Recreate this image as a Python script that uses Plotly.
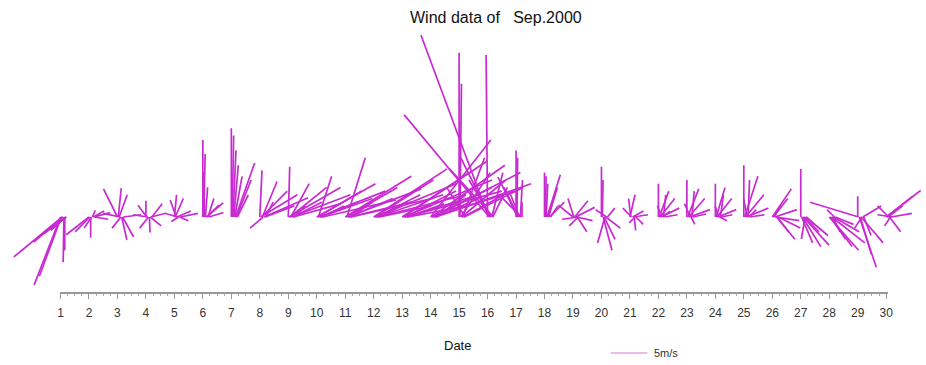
import plotly.graph_objects as go

# 30 days of Sep 2000, 8 observations a day (u, v in m/s)
DAYS = list(range(1, 31))
OBS_HOURS = [0, 3, 6, 9, 12, 15, 18, 21]
TICK_LABELS = [str(d) for d in DAYS]

U = [
    [-3.6, -3.0, -6.6, -4.0, -0.1, 0.0, -2.0, -3.0],
    [-3.1, -2.0, 0.0, -1.0, 0.4, 1.5, 2.2, 1.8],
    [-1.9, 0.4, 1.1, -2.3, -1.2, 0.7, 1.5, 2.4],
    [0.0, -1.2, -2.0, -1.2, 0.1, 1.5, 2.0, 1.4],
    [0.3, 1.1, -0.8, 1.9, -1.8, -1.0, 1.2, 2.4],
    [0.0, 0.2, -0.1, 0.3, 2.3, 1.6, 0.8, 2.0],
    [0.0, 0.2, 0.4, 0.6, 1.0, 2.6, 2.0, 1.5],
    [0.3, 5.0, 3.5, 2.0, -1.8, 6.0, 4.0, 1.0],
    [0.2, 7.0, 5.0, 2.5, 8.0, 4.0, 6.5, 1.5],
    [8.0, 6.0, 1.8, 9.0, 5.0, 7.0, 3.0, 10.0],
    [9.0, 7.0, 2.5, 10.0, 6.0, 8.5, 3.0, 11.0],
    [10.0, 8.0, 11.0, 6.0, 9.0, 12.0, 4.0, 7.0],
    [11.5, 9.0, 12.0, 7.0, 10.0, 13.0, 5.0, 8.0],
    [8.2, 10.0, 12.0, 8.0, 11.0, 6.0, 13.0, 4.0],
    [0.0, 0.2, 4.0, 6.0, 3.0, 5.5, 8.0, -2.5],
    [-0.2, -9.2, -11.6, -4.0, -3.0, 1.5, 2.0, -6.0],
    [0.0, 0.1, -2.7, -2.0, -1.2, 0.3, -3.0, 0.0],
    [0.0, 0.1, 0.2, 1.8, 1.3, 0.8, 2.0, 1.0],
    [-2.0, -0.8, 1.8, 2.6, 2.2, 1.3, -1.2, -2.3],
    [0.0, 0.1, 1.2, 1.5, -1.0, 2.0, -1.5, 1.0],
    [0.7, -0.3, -1.2, 1.5, 2.0, 0.2, -0.8, 1.0],
    [0.0, 1.3, 2.0, 2.5, -0.6, 1.0, 0.3, 1.8],
    [0.0, 1.5, 2.2, 2.8, -0.8, 0.5, 0.3, 1.8],
    [0.0, 1.2, 2.0, 2.5, -0.5, 1.0, 0.4, 1.5],
    [0.0, 1.8, 2.5, 3.0, -0.5, 0.2, 1.0, 2.0],
    [2.6, 2.0, 1.0, 3.0, 3.2, 2.5, 1.5, 3.0],
    [0.0, 1.5, 2.5, 3.5, 2.0, -0.5, 3.0, 1.0],
    [4.0, 3.0, 2.0, 4.5, 1.0, 3.5, -1.0, 2.5],
    [0.0, -6.6, 2.3, 1.5, 3.0, -1.0, 2.5, 1.0],
    [4.7, 3.5, 2.0, -1.5, 1.5, -0.8, 2.8, -2.0],
]
V = [
    [-9.2, -8.0, -5.4, -3.4, -6.1, -4.5, -1.8, -2.2],
    [-2.4, -2.0, -2.8, -1.5, 0.9, 0.8, 0.6, -0.3],
    [3.8, 3.9, 3.0, 0.5, -1.5, -3.1, -2.7, 0.3],
    [2.2, 1.6, 0.3, -1.5, -2.1, -1.2, 0.5, 1.8],
    [3.0, 2.5, 2.3, 0.8, 0.5, -0.6, -0.5, 0.5],
    [10.4, 8.5, 6.0, 4.0, 1.9, 1.6, 2.5, 0.6],
    [12.0, 11.0, 9.0, 7.0, 5.5, 7.3, 5.0, 3.0],
    [6.3, 3.0, 3.5, 4.8, -1.5, 2.6, 1.5, 2.0],
    [6.8, 4.0, 4.0, 4.5, 3.0, 2.0, 1.8, 1.5],
    [4.5, 3.5, 5.5, 3.5, 2.0, 2.5, 1.5, 2.3],
    [5.5, 4.0, 8.0, 3.8, 2.5, 2.0, 2.0, 2.5],
    [6.5, 5.0, 4.5, 3.0, 3.0, 3.0, 2.0, 1.5],
    [7.5, 6.0, 5.0, 3.5, 3.0, 3.5, 1.8, 1.5],
    [10.4, 7.0, 6.0, 4.0, 3.5, 2.5, 4.5, 3.0],
    [22.2, 18.0, 6.0, 5.0, 8.0, 3.0, 4.0, 4.0],
    [21.9, 24.6, 13.8, 8.0, 5.0, 6.0, 4.0, 6.5],
    [9.0, 8.0, 5.4, 4.0, 3.0, 5.0, 3.0, 2.0],
    [6.0, 5.5, 4.5, 5.7, 4.0, 3.0, 2.0, 1.5],
    [1.6, 2.5, 2.2, 1.3, -0.5, -2.0, -1.2, -0.3],
    [6.8, 5.0, -4.5, -3.0, -3.5, -1.5, 1.0, 1.2],
    [3.0, 2.5, 1.2, 0.8, 0.3, -1.8, -0.8, -1.0],
    [4.5, 3.5, 2.5, 1.2, 1.5, 0.8, 3.0, 0.3],
    [5.0, 3.8, 2.5, 1.0, 1.8, -1.0, 3.5, 0.4],
    [4.5, 4.0, 2.5, 1.0, 1.5, -0.5, 3.0, 0.3],
    [7.0, 5.5, 3.0, 1.2, 2.5, 5.0, 1.0, 0.3],
    [3.8, 2.5, 1.5, 1.0, -0.5, -3.0, -2.0, -1.5],
    [6.5, -3.5, -4.0, -3.8, -2.0, -3.0, -2.5, -1.0],
    [-4.5, -4.0, -3.0, -3.5, -2.0, -2.0, 1.0, -1.0],
    [2.8, 2.0, -6.8, -5.0, -3.5, -1.5, 1.5, -2.5],
    [3.6, 2.8, 1.5, 1.5, -2.0, -1.2, 0.5, 0.3],
]
SCALE_SPEED = 5  # m/s, legend stick

W, H = 926, 365
PX_PER_DAY = 28.72
PX_PER_MS = 7.4
X0_PX = 58      # day 1 tick
BASE_PX = 217   # stick baseline (from top)
AXIS_PX = 292   # date axis line (from top)
U2DAY = PX_PER_MS / PX_PER_DAY

# stick segments: origin on baseline, tip at (u, v)
xs, ys = [], []
for d, us, vs in zip(DAYS, U, V):
    for h, u, v in zip(OBS_HOURS, us, vs):
        t = d + h / 100  # obs sit just right of each day tick in the original
        xs += [t, t + u * U2DAY, None]
        ys += [0, v, None]

fig = go.Figure()
fig.add_trace(go.Scatter(
    x=xs, y=ys, mode="lines", xaxis="x2", yaxis="y2",
    line=dict(color="rgb(195,20,205)", width=1.7),
    opacity=0.9, hoverinfo="skip", showlegend=False,
))

# 5 m/s scale stick
leg_t = 1 + (613 - X0_PX) / PX_PER_DAY
leg_y = (BASE_PX - 353) / PX_PER_MS
fig.add_trace(go.Scatter(
    x=[leg_t, leg_t + SCALE_SPEED * U2DAY], y=[leg_y, leg_y],
    mode="lines", xaxis="x2", yaxis="y2",
    line=dict(color="rgb(215,120,215)", width=1.2),
    hoverinfo="skip", showlegend=False,
))

# invisible trace to carry the date axis
fig.add_trace(go.Scatter(x=[1, 30], y=[0, 0], mode="markers",
                         marker=dict(opacity=0), hoverinfo="skip", showlegend=False))

x2_range = [1 - X0_PX / PX_PER_DAY, 1 + (W - X0_PX) / PX_PER_DAY]
y2_range = [(BASE_PX - H) / PX_PER_MS, BASE_PX / PX_PER_MS]
axis_end = 893

fig.update_layout(
    width=W, height=H,
    margin=dict(l=0, r=0, t=0, b=0),
    paper_bgcolor="white", plot_bgcolor="rgba(0,0,0,0)",
    font=dict(family="Liberation Sans, Arial, sans-serif", color="#222"),
    xaxis=dict(
        domain=[X0_PX / W, axis_end / W],
        range=[1, 1 + (axis_end - X0_PX) / PX_PER_DAY],
        tickmode="array", tickvals=DAYS, ticktext=TICK_LABELS,
        showline=True, linecolor="#999", linewidth=2,
        ticks="outside", ticklen=5, tickcolor="#999", tickwidth=1,
        minor=dict(dtick=0.25, ticks="outside", ticklen=2, tickcolor="#aaa"),
        showgrid=False, zeroline=False,
        tickfont=dict(size=12, color="#333"),
        ticklabelstandoff=4,
        anchor="y",
    ),
    yaxis=dict(domain=[(H - AXIS_PX) / H, (H - AXIS_PX) / H + 0.05],
               visible=False, range=[0, 1]),
    xaxis2=dict(domain=[0, 1], range=x2_range, visible=False, anchor="y2"),
    yaxis2=dict(domain=[0, 1], range=y2_range, visible=False, anchor="x2"),
    annotations=[
        dict(text="Wind data of   Sep.2000", x=497 / W, y=1 - 17 / H,
             xref="paper", yref="paper", yanchor="middle", showarrow=False,
             font=dict(size=16, color="#111")),
        dict(text="Date", x=458 / W, y=1 - 345 / H,
             xref="paper", yref="paper", yanchor="middle", showarrow=False,
             font=dict(size=13, color="#111")),
        dict(text="5m/s", x=655 / W, y=1 - 353 / H, xanchor="left",
             xref="paper", yref="paper", yanchor="middle", showarrow=False,
             font=dict(size=11, color="#333")),
    ],
)

fig.write_html("out.html", config={"displayModeBar": False},
               post_script="document.body.style.margin='0';")
